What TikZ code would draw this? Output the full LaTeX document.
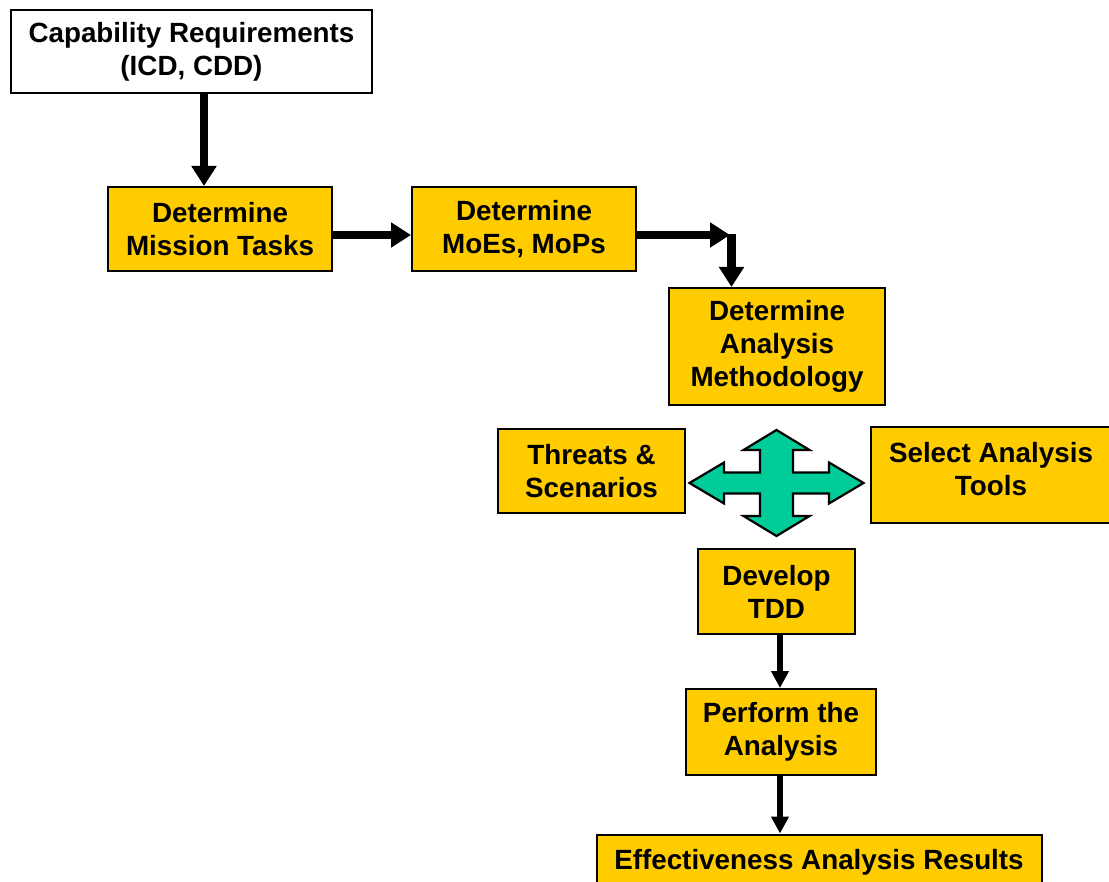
\documentclass[tikz,border=0pt]{standalone}
\usepackage{fontspec}
\setmainfont{Liberation Sans}
\usetikzlibrary{arrows.meta}
\definecolor{boxyellow}{RGB}{255,204,0}
\definecolor{quadgreen}{RGB}{0,204,153}
\begin{document}
\begin{tikzpicture}[x=1pt,y=-1pt,
  every node/.style={font=\fontsize{27.8}{33}\selectfont\bfseries, align=center, inner sep=0pt},
  stagebox/.style={draw=black, line width=2pt, fill=boxyellow},
  sourcebox/.style={draw=black, line width=2pt, fill=white},
  bigarrow/.style={line width=8.5pt, -{Triangle[width=24pt,length=20pt]}},
  smallarrow/.style={line width=6pt, -{Triangle[width=17pt,length=17pt]}}]
  \useasboundingbox (0,0) rectangle (1109,882);
  \clip (0,0) rectangle (1109,882);

  % process boxes
  \node[sourcebox, minimum width=361pt, minimum height=83pt] (cap) at (191.5,51.5)
    {Capability Requirements\\(ICD, CDD)};
  \node[stagebox, minimum width=224pt, minimum height=84pt] (mt) at (220,229)
    {Determine\\Mission Tasks};
  \node[stagebox, minimum width=224pt, minimum height=84pt] (moe) at (524,229)
    {Determine\\MoEs, MoPs};
  \node[stagebox, minimum width=216pt, minimum height=117pt] (meth) at (777,346.5)
    {Determine\\Analysis\\Methodology};
  \node[stagebox, minimum width=187pt, minimum height=84pt] (thr) at (591.5,471)
    {Threats \&\\Scenarios};
  \node[stagebox, minimum width=240pt, minimum height=96pt] (tools) at (991,475) {};
  \node (toolstext) at ([yshift=6pt]tools.center) {Select Analysis\\Tools};
  \node[stagebox, minimum width=157pt, minimum height=85pt] (dev) at (776.5,591.5)
    {Develop\\TDD};
  \node[stagebox, minimum width=190pt, minimum height=86pt] (perf) at (781,732)
    {Perform the\\Analysis};
  \node[stagebox, minimum width=445pt, minimum height=56pt] (eff) at (819,862.5)
    {Effectiveness Analysis Results};

  % four-way arrow between the methodology inputs
  \coordinate (hub) at (776.5,483);
  \draw[line width=2.2pt, fill=quadgreen, line join=miter]
    ([shift={(0,-53)}]hub)
    -- ++(33,20) -- ++(-16.5,0) -- ++(0,22.5)
    -- ++(36,0) -- ++(0,-10) -- ++(34.5,20.5) -- ++(-34.5,20.5) -- ++(0,-10)
    -- ++(-36,0) -- ++(0,22.5) -- ++(16.5,0) -- ++(-33,20)
    -- ++(-33,-20) -- ++(16.5,0) -- ++(0,-22.5)
    -- ++(-36,0) -- ++(0,10) -- ++(-34.5,-20.5) -- ++(34.5,-20.5) -- ++(0,10)
    -- ++(36,0) -- ++(0,-22.5) -- ++(-16.5,0) -- cycle;

  % connectors
  \coordinate (bend) at (730,235);
  \draw[bigarrow] ([xshift=12.5pt]cap.south) -- ([xshift=-16pt]mt.north);
  \draw[bigarrow] ([yshift=-6pt]mt.east) -- ([yshift=-6pt]moe.west);
  \draw[bigarrow] ([yshift=-6pt]moe.east) -- (bend);
  \draw[bigarrow] ([shift={(1.5,-1)}]bend) -- ([xshift=-45.5pt]meth.north);
  \draw[smallarrow] ([xshift=3.5pt]dev.south) -- ([xshift=-1pt]perf.north);
  \draw[smallarrow] ([xshift=-1pt]perf.south) -- ([xshift=-39pt]eff.north);
\end{tikzpicture}
\end{document}
